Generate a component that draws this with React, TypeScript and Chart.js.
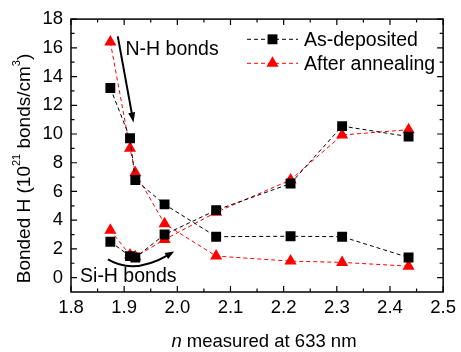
import { useEffect, useRef } from "react";
import { Chart, registerables } from "chart.js";

Chart.register(...registerables);

// Refractive index of each film (x) and bonded hydrogen densities (10^21 bonds/cm^3)
const N_VALUES = [1.874, 1.911, 1.921, 1.976, 2.073, 2.213, 2.31, 2.435];
const AS_DEP_NH = [13.2, 9.7, 6.8, 5.1, 2.85, 2.88, 2.85, 1.4];
const AS_DEP_SIH = [2.5, 1.5, 1.4, 3.0, 4.7, 6.55, 10.55, 9.82];
const ANNEALED_NH = [16.4, 9.0, 7.3, 3.75, 1.5, 1.15, 1.06, 0.8];
const ANNEALED_SIH = [3.3, 1.57, 1.45, 2.65, 4.55, 6.8, 9.93, 10.3];

const X_TICKS = [1.8, 1.9, 2.0, 2.1, 2.2, 2.3, 2.4, 2.5];
const X_MINOR = [1.85, 1.95, 2.05, 2.15, 2.25, 2.35, 2.45];
const Y_TICKS = [0, 2, 4, 6, 8, 10, 12, 14, 16, 18];
const Y_MINOR = [1, 3, 5, 7, 9, 11, 13, 15, 17];

const LEGEND_LABELS = ["As-deposited", "After annealing"];
const NH_LABEL = "N-H bonds";
const SIH_LABEL = "Si-H bonds";

// Annotation anchors in data units
const NH_ARROW = { from: [1.888, 16.8], to: [1.9175, 10.8] };
const SIH_ARROW = { from: [1.8695, 1.27], ctrl: [1.918, 0.18], to: [1.994, 1.82] };
const NH_TEXT_AT = [1.9025, 15.86];
const SIH_TEXT_AT = [1.817, 0.05];

const FONT = '"Liberation Sans", Arial, Helvetica, sans-serif';
const BLACK = "#000000";
const RED = "#ff0000";
const DASH = [4, 3];
const MARKER_R = 7;

const pts = (ys: number[]) => N_VALUES.map((x, i) => ({ x, y: ys[i] }));

function arrowHead(ctx: CanvasRenderingContext2D, x: number, y: number, ang: number, len: number, half: number) {
  const c = Math.cos(ang);
  const s = Math.sin(ang);
  ctx.beginPath();
  ctx.moveTo(x, y);
  ctx.lineTo(x - len * c + half * s, y - len * s - half * c);
  ctx.lineTo(x - len * c - half * s, y - len * s + half * c);
  ctx.closePath();
  ctx.fill();
}

type Seg = { t: string; size: number; rise: number; italic?: boolean };

function segWidth(ctx: CanvasRenderingContext2D, segs: Seg[]) {
  let w = 0;
  for (const s of segs) {
    ctx.font = `${s.italic ? "italic " : ""}${s.size}px ${FONT}`;
    w += ctx.measureText(s.t).width;
  }
  return w;
}

function drawSegs(ctx: CanvasRenderingContext2D, segs: Seg[], x0: number, y0: number) {
  let x = x0;
  for (const s of segs) {
    ctx.font = `${s.italic ? "italic " : ""}${s.size}px ${FONT}`;
    ctx.fillText(s.t, x, y0 - s.rise);
    x += ctx.measureText(s.t).width;
  }
}

const decorations = {
  id: "decorations",
  afterDraw(chart: any) {
    const { ctx, chartArea } = chart;
    const xs = chart.scales.x;
    const ys = chart.scales.y;
    const { left, right, top, bottom } = chartArea;
    ctx.save();

    // frame
    ctx.strokeStyle = BLACK;
    ctx.lineWidth = 1.5;
    ctx.setLineDash([]);
    ctx.strokeRect(left, top, right - left, bottom - top);

    // inward tick marks on all four sides
    ctx.lineWidth = 1.2;
    ctx.beginPath();
    const tickX = (v: number, len: number) => {
      const px = xs.getPixelForValue(v);
      ctx.moveTo(px, bottom);
      ctx.lineTo(px, bottom - len);
      ctx.moveTo(px, top);
      ctx.lineTo(px, top + len);
    };
    const tickY = (v: number, len: number) => {
      const py = ys.getPixelForValue(v);
      ctx.moveTo(left, py);
      ctx.lineTo(left + len, py);
      ctx.moveTo(right, py);
      ctx.lineTo(right - len, py);
    };
    X_TICKS.forEach((v) => tickX(v, 6));
    X_MINOR.forEach((v) => tickX(v, 3.5));
    Y_TICKS.forEach((v) => tickY(v, 6));
    Y_MINOR.forEach((v) => tickY(v, 3.5));
    ctx.stroke();

    // axis titles
    ctx.fillStyle = BLACK;
    ctx.textBaseline = "alphabetic";
    ctx.textAlign = "left";
    const xTitle: Seg[] = [
      { t: "n", size: 18.5, rise: 0, italic: true },
      { t: " measured at 633 nm", size: 18.5, rise: 0 },
    ];
    const xw = segWidth(ctx, xTitle);
    drawSegs(ctx, xTitle, 264 - xw / 2, 346.5);

    const yTitle: Seg[] = [
      { t: "Bonded H (10", size: 19, rise: 0 },
      { t: "21", size: 11, rise: 10 },
      { t: " bonds/cm", size: 19, rise: 0 },
      { t: "3", size: 11, rise: 10 },
      { t: ")", size: 19, rise: 0 },
    ];
    const yw = segWidth(ctx, yTitle);
    ctx.save();
    ctx.translate(30, 168.5);
    ctx.rotate(-Math.PI / 2);
    drawSegs(ctx, yTitle, -yw / 2, 0);
    ctx.restore();

    // legend
    const legendRows = [
      { label: LEGEND_LABELS[0], color: BLACK, style: "rect" },
      { label: LEGEND_LABELS[1], color: RED, style: "triangle" },
    ];
    legendRows.forEach((row, i) => {
      const y = 39.3 + i * 24;
      ctx.strokeStyle = row.color;
      ctx.lineWidth = 1;
      ctx.setLineDash(DASH);
      ctx.beginPath();
      ctx.moveTo(247, y);
      ctx.lineTo(298, y);
      ctx.stroke();
      ctx.setLineDash([]);
      ctx.fillStyle = row.color;
      ctx.beginPath();
      if (row.style === "rect") {
        const h = MARKER_R * Math.SQRT1_2;
        ctx.rect(272.5 - h, y - h, 2 * h, 2 * h);
      } else {
        const r = MARKER_R;
        ctx.moveTo(272.5, y - r);
        ctx.lineTo(272.5 + r * 0.866, y + r / 2);
        ctx.lineTo(272.5 - r * 0.866, y + r / 2);
        ctx.closePath();
      }
      ctx.fill();
      ctx.fillStyle = BLACK;
      ctx.font = `19.5px ${FONT}`;
      ctx.textBaseline = "middle";
      ctx.fillText(row.label, 304, y + 1);
    });

    // annotations
    ctx.fillStyle = BLACK;
    ctx.font = `19.5px ${FONT}`;
    ctx.textBaseline = "middle";
    ctx.fillText(NH_LABEL, xs.getPixelForValue(NH_TEXT_AT[0]), ys.getPixelForValue(NH_TEXT_AT[1]));
    ctx.fillText(SIH_LABEL, xs.getPixelForValue(SIH_TEXT_AT[0]), ys.getPixelForValue(SIH_TEXT_AT[1]));

    ctx.strokeStyle = BLACK;
    ctx.lineWidth = 2;
    const ax0 = xs.getPixelForValue(NH_ARROW.from[0]);
    const ay0 = ys.getPixelForValue(NH_ARROW.from[1]);
    const ax1 = xs.getPixelForValue(NH_ARROW.to[0]);
    const ay1 = ys.getPixelForValue(NH_ARROW.to[1]);
    const ang = Math.atan2(ay1 - ay0, ax1 - ax0);
    ctx.beginPath();
    ctx.moveTo(ax0, ay0);
    ctx.lineTo(ax1 - 8 * Math.cos(ang), ay1 - 8 * Math.sin(ang));
    ctx.stroke();
    arrowHead(ctx, ax1, ay1, ang, 10, 3.5);

    const sx0 = xs.getPixelForValue(SIH_ARROW.from[0]);
    const sy0 = ys.getPixelForValue(SIH_ARROW.from[1]);
    const scx = xs.getPixelForValue(SIH_ARROW.ctrl[0]);
    const scy = ys.getPixelForValue(SIH_ARROW.ctrl[1]);
    const sx1 = xs.getPixelForValue(SIH_ARROW.to[0]);
    const sy1 = ys.getPixelForValue(SIH_ARROW.to[1]);
    const sang = Math.atan2(sy1 - scy, sx1 - scx);
    ctx.beginPath();
    ctx.moveTo(sx0, sy0);
    ctx.quadraticCurveTo(scx, scy, sx1 - 6 * Math.cos(sang), sy1 - 6 * Math.sin(sang));
    ctx.stroke();
    arrowHead(ctx, sx1, sy1, sang, 9, 3.5);

    ctx.restore();
  },
};

const seriesStyle = (color: string, style: string) => ({
  showLine: true,
  borderColor: color,
  backgroundColor: color,
  borderWidth: 1,
  borderDash: DASH,
  pointStyle: style,
  pointRadius: MARKER_R,
  pointBorderWidth: 0,
  pointBackgroundColor: color,
  tension: 0,
});

export default function App() {
  const canvasRef = useRef<HTMLCanvasElement | null>(null);

  useEffect(() => {
    document.body.style.margin = "0";
    const canvas = canvasRef.current;
    if (!canvas) return;
    const chart = new Chart(canvas, {
      type: "scatter",
      data: {
        datasets: [
          { label: "As-deposited N-H", data: pts(AS_DEP_NH), ...seriesStyle(BLACK, "rect") },
          { label: "As-deposited Si-H", data: pts(AS_DEP_SIH), ...seriesStyle(BLACK, "rect") },
          { label: "After annealing N-H", data: pts(ANNEALED_NH), ...seriesStyle(RED, "triangle") },
          { label: "After annealing Si-H", data: pts(ANNEALED_SIH), ...seriesStyle(RED, "triangle") },
        ] as any,
      },
      options: {
        responsive: false,
        animation: false,
        devicePixelRatio: 1,
        layout: { padding: { left: 0, right: 14.5, top: 16, bottom: 0 } },
        plugins: { legend: { display: false }, tooltip: { enabled: false } },
        scales: {
          x: {
            type: "linear",
            min: 1.8,
            max: 2.5,
            grid: { display: false, drawTicks: false },
            border: { display: false },
            afterBuildTicks: (s: any) => {
              s.ticks = X_TICKS.map((v) => ({ value: v }));
            },
            afterFit: (s: any) => {
              s.height = 60;
            },
            ticks: {
              color: BLACK,
              padding: 5,
              maxRotation: 0,
              autoSkip: false,
              font: { family: FONT, size: 18.5 },
              callback: (v: any) => Number(v).toFixed(1),
            },
          },
          y: {
            type: "linear",
            min: -1,
            max: 18,
            grid: { display: false, drawTicks: false },
            border: { display: false },
            afterBuildTicks: (s: any) => {
              s.ticks = Y_TICKS.map((v) => ({ value: v }));
            },
            afterFit: (s: any) => {
              s.width = 71;
            },
            ticks: {
              color: BLACK,
              padding: 8,
              autoSkip: false,
              font: { family: FONT, size: 18.5 },
              callback: (v: any) => String(v),
            },
          },
        },
      },
      plugins: [decorations],
    });
    return () => chart.destroy();
  }, []);

  return (
    <div style={{ width: 461, height: 352 }}>
      <canvas ref={canvasRef} width={461} height={352} />
    </div>
  );
}
